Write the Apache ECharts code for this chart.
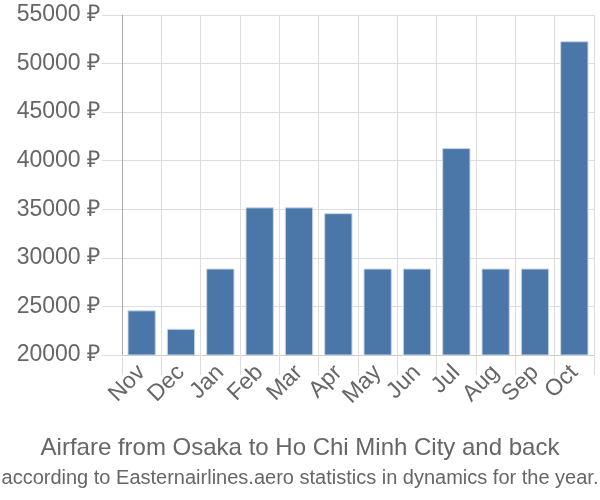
<!DOCTYPE html>
<html><head><meta charset="utf-8">
<script src="https://cdn.jsdelivr.net/npm/echarts@6/dist/echarts.min.js"></script>
<style>html,body{margin:0;padding:0;background:#fff}#c{width:600px;height:500px}</style>
</head><body><div id="c"></div>
<script>
var categories = ["Nov","Dec","Jan","Feb","Mar","Apr","May","Jun","Jul","Aug","Sep","Oct"];
var prices = [24600, 22700, 28900, 35200, 35200, 34600, 28900, 28900, 41300, 28900, 28900, 52300];
var yTicks = {min: 20000, max: 55000, step: 5000};
var titleText = "Airfare from Osaka to Ho Chi Minh City and back";
var subtitleText = "according to Easternairlines.aero statistics in dynamics for the year.";

var chart = echarts.init(document.getElementById('c'));
chart.setOption({
  animation: false,
  grid: {left: 122, right: 6, top: 15, bottom: 145, containLabel: false},
  title: [
    {text: titleText, left: 'center', top: 431, textStyle: {fontFamily: 'Liberation Sans, Arial', fontSize: 24, fontWeight: 'normal', color: '#666'}},
    {text: subtitleText, left: 'center', top: 463, textStyle: {fontFamily: 'Liberation Sans Narrow, Liberation Sans, Arial', fontSize: 20, fontWeight: 'normal', color: '#666'}}
  ],
  xAxis: {
    type: 'category',
    data: categories,
    axisLine: {show: true, lineStyle: {color: '#ccc', width: 1}},
    axisTick: {show: true, interval: 0, length: 20, lineStyle: {color: '#ddd', width: 1}},
    splitLine: {show: true, interval: 0, lineStyle: {color: '#ddd', width: 1}},
    axisLabel: {interval: 0, hideOverlap: false, rotate: 45, margin: 14, fontFamily: 'Liberation Sans, Arial', fontSize: 23, color: '#666'}
  },
  yAxis: {
    type: 'value',
    min: yTicks.min, max: yTicks.max, interval: yTicks.step,
    axisLine: {show: true, lineStyle: {color: '#aaa', width: 1}},
    axisTick: {show: true, length: 20, lineStyle: {color: '#ddd', width: 1}},
    splitLine: {show: true, lineStyle: {color: '#ddd', width: 1}},
    axisLabel: {margin: 22, fontFamily: 'Liberation Sans, Arial', fontSize: 23, color: '#666', formatter: function(v){return v + ' ₽';}}
  },
  series: [{
    type: 'bar',
    data: prices,
    barCategoryGap: '28%',
    itemStyle: {color: '#4a76a8', borderColor: '#c9d6e6', borderWidth: 1}
  }]
});
</script>
</body></html>
